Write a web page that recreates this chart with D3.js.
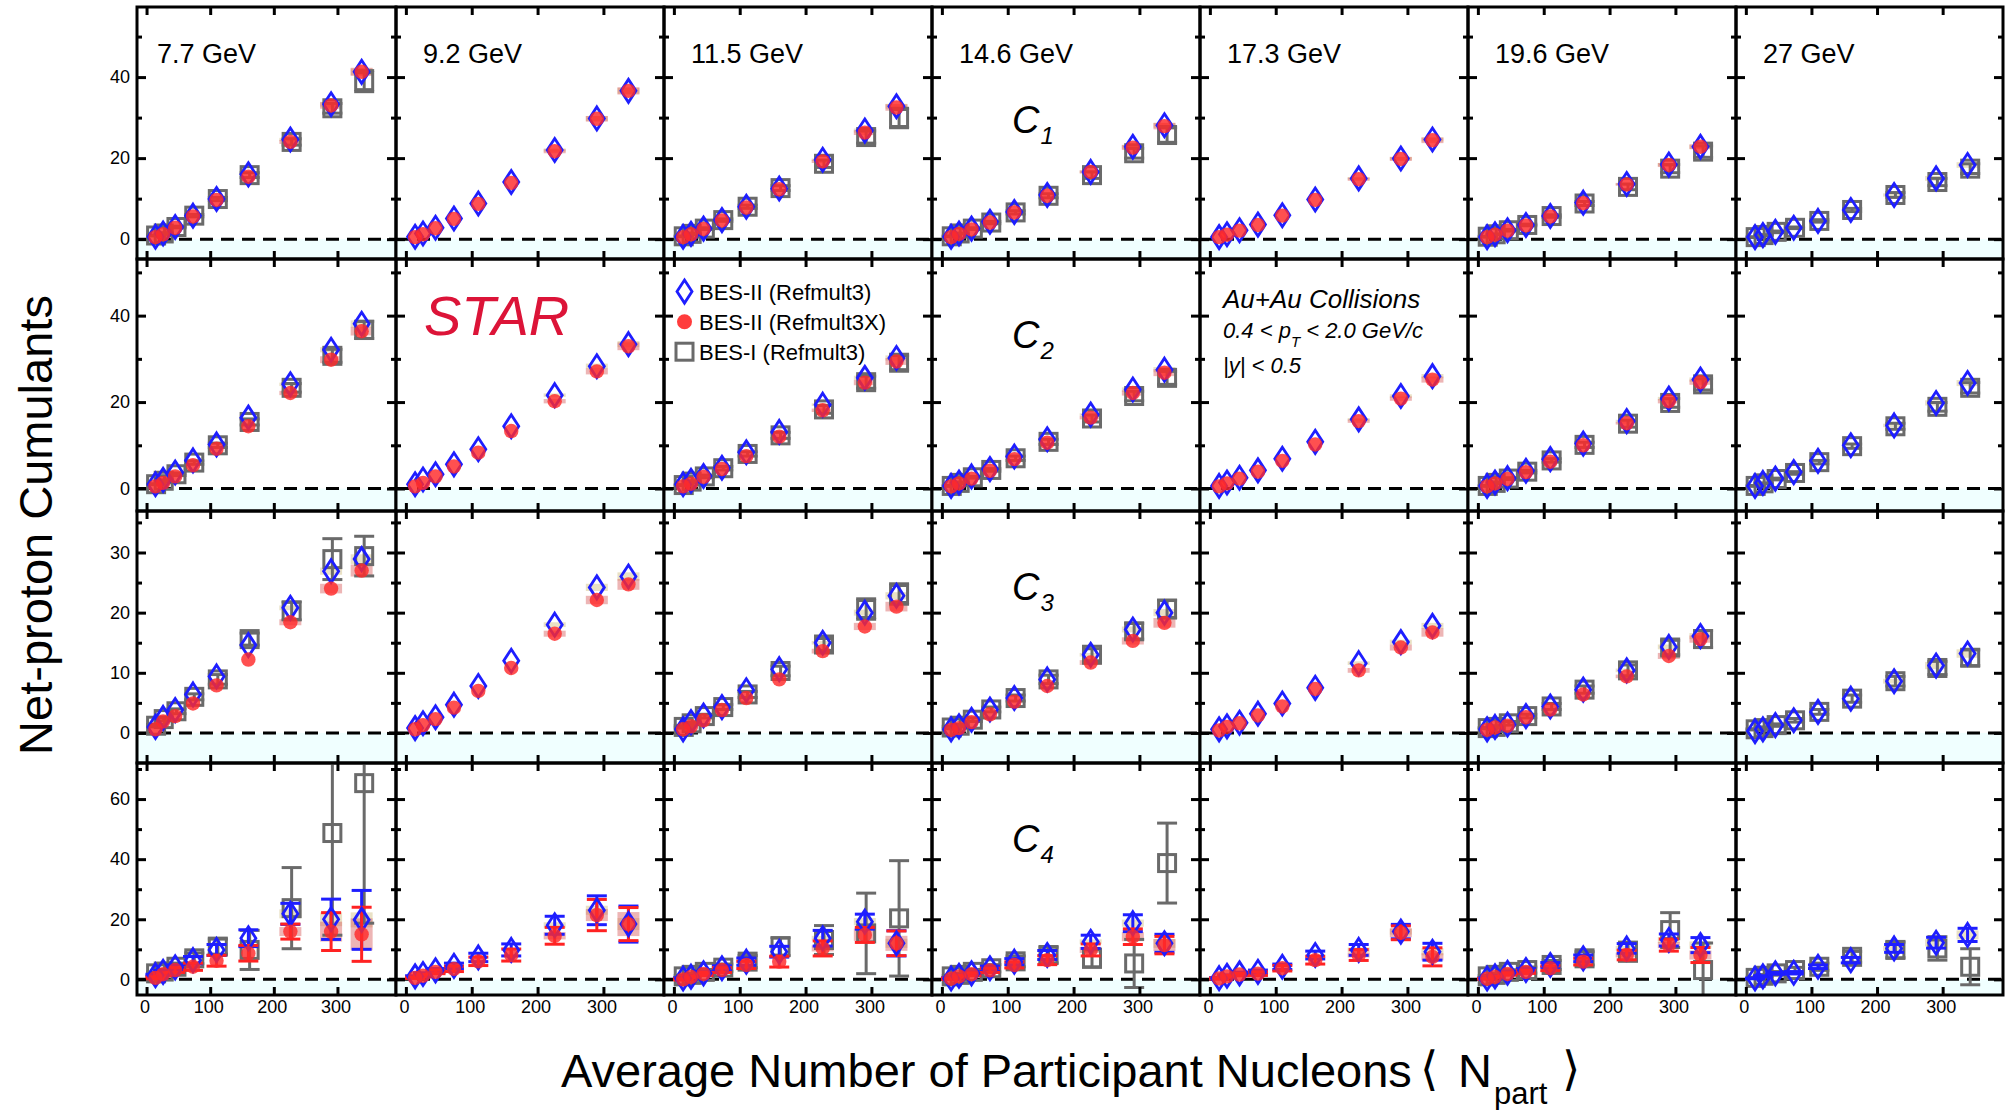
<!DOCTYPE html>
<html lang="en">
<head>
<meta charset="UTF-8">
<script src="https://d3js.org/d3.v7.min.js"></script>
<title>Net-proton cumulants vs Npart</title>
<style>
  body { margin: 0; background: #fff; }
  text { font-family: "Liberation Sans", Arial, Helvetica, sans-serif; fill: #000; }
</style>
</head>
<body>
<svg id="chart" width="2007" height="1110"></svg>
<script>
// ---- data ----
const energies = ["7.7 GeV", "9.2 GeV", "11.5 GeV", "14.6 GeV", "17.3 GeV", "19.6 GeV", "27 GeV"];
const npart = [14, 26, 45, 73, 110, 160, 226, 290, 338];
const npartBes1 = [15, 27, 47, 75, 112, 162, 228, 292, 342];
const cumulantNames = ["1", "2", "3", "4"];
const xTicks = [0, 100, 200, 300];
const yMajor = [[0, 20, 40], [0, 20, 40], [0, 10, 20, 30], [0, 20, 40, 60]];
const yMinor = [[10, 30, 50], [10, 30, 50], [5, 15, 25, 35], [10, 30, 50, 70]];

// C1
const c1Ref3 = [
  [0.6, 1.4, 3.0, 5.8, 9.9, 16.0, 24.6, 33.3, 41.3],
  [0.6, 1.4, 2.8, 5.1, 8.8, 14.1, 22.0, 29.8, 36.6],
  [0.6, 1.3, 2.6, 4.7, 8.0, 12.5, 19.6, 26.8, 32.8],
  [0.6, 1.4, 2.6, 4.3, 6.7, 10.9, 16.6, 22.8, 28.1],
  [0.5, 1.2, 2.2, 3.6, 5.9, 9.8, 15.0, 19.9, 24.6],
  [0.5, 1.2, 2.2, 3.5, 5.7, 9.0, 13.6, 18.4, 22.8],
  [0.5, 1.0, 1.8, 2.8, 4.5, 7.2, 10.9, 15.0, 18.3]
];
const c1Ref3X = [
  [0.5, 1.2, 2.8, 5.6, 9.7, 15.4, 24.0, 33.0, 41.3],
  [0.5, 1.2, 2.7, 5.0, 8.7, 13.9, 21.7, 29.7, 36.6],
  [0.5, 1.2, 2.5, 4.6, 7.8, 12.3, 19.2, 26.3, 32.5],
  [0.5, 1.3, 2.4, 4.1, 6.6, 10.7, 16.6, 22.6, 27.9],
  [0.5, 1.1, 2.1, 3.5, 5.8, 9.7, 14.8, 19.8, 24.4],
  [0.5, 1.1, 2.1, 3.4, 5.6, 8.9, 13.5, 18.3, 22.8],
  null
];
const c1Bes1 = [
  [0.9, 1.4, 3.0, 5.8, 9.9, 15.8, 24.0, 32.3, 39.0],
  null,
  [0.7, 1.3, 2.6, 4.7, 8.0, 12.6, 18.6, 25.2, 29.9],
  [0.7, 1.4, 2.6, 4.1, 6.6, 10.7, 15.8, 21.2, 25.7],
  null,
  [0.6, 1.2, 2.2, 3.5, 5.7, 8.8, 12.9, 17.4, 21.6],
  [0.5, 1.0, 1.8, 2.8, 4.5, 7.2, 10.9, 14.1, 17.4]
];
const c1Bes1Err = [
  [0.1, 0.2, 0.2, 0.3, 0.4, 0.6, 0.8, 1.2, 2.6],
  null,
  [0.1, 0.2, 0.2, 0.3, 0.4, 0.6, 0.9, 1.5, 2.4],
  [0.1, 0.1, 0.2, 0.3, 0.4, 0.5, 0.8, 1.2, 1.8],
  null,
  [0.1, 0.1, 0.2, 0.2, 0.3, 0.5, 0.7, 1.0, 1.4],
  [0.1, 0.1, 0.2, 0.2, 0.3, 0.4, 0.6, 0.9, 1.2]
];

// C2
const c2Ref3 = [
  [1.0, 2.0, 3.7, 6.5, 10.2, 16.4, 24.1, 32.1, 38.1],
  [1.0, 2.1, 3.3, 5.6, 9.1, 14.4, 21.6, 28.3, 33.4],
  [1.0, 1.8, 2.9, 4.8, 8.4, 13.1, 19.4, 25.6, 30.2],
  [0.6, 1.4, 2.8, 4.5, 7.4, 11.4, 17.1, 22.9, 27.5],
  [0.6, 1.4, 2.5, 4.2, 6.9, 10.8, 16.0, 21.4, 26.0],
  [0.6, 1.4, 2.4, 4.1, 6.8, 10.4, 15.6, 20.8, 25.2],
  [0.6, 1.3, 2.3, 3.8, 6.4, 10.0, 14.6, 19.8, 24.4]
];
const c2Ref3X = [
  [0.5, 1.3, 2.8, 5.4, 9.2, 14.4, 22.1, 29.8, 36.4],
  [0.5, 1.3, 2.8, 5.1, 8.3, 13.3, 20.2, 27.1, 32.9],
  [0.5, 1.1, 2.7, 4.5, 7.5, 12.0, 18.1, 24.5, 29.4],
  [0.5, 1.2, 2.3, 4.1, 6.8, 10.6, 16.4, 22.1, 26.8],
  [0.5, 1.2, 2.3, 3.9, 6.4, 10.2, 15.6, 20.8, 25.2],
  [0.5, 1.2, 2.2, 3.8, 6.2, 10.0, 15.1, 20.2, 24.6],
  null
];
const c2Bes1 = [
  [1.0, 1.8, 3.3, 6.0, 10.0, 15.4, 23.3, 30.7, 36.7],
  null,
  [0.8, 1.6, 2.8, 4.7, 8.0, 12.3, 18.3, 24.6, 29.1],
  [0.6, 1.3, 2.6, 4.3, 7.0, 10.8, 16.2, 21.4, 25.6],
  null,
  [0.6, 1.3, 2.3, 3.9, 6.5, 10.1, 15.0, 19.8, 24.1],
  [0.6, 1.2, 2.2, 3.6, 6.1, 9.8, 14.4, 18.9, 23.3]
];
const c2Bes1Err = [
  [0.1, 0.2, 0.3, 0.4, 0.5, 0.7, 1.0, 1.5, 2.0],
  null,
  [0.1, 0.2, 0.3, 0.4, 0.5, 0.7, 0.9, 1.4, 1.6],
  [0.1, 0.2, 0.2, 0.3, 0.5, 0.6, 0.8, 1.1, 1.5],
  null,
  [0.1, 0.2, 0.2, 0.3, 0.4, 0.6, 0.8, 1.0, 1.3],
  [0.1, 0.1, 0.2, 0.3, 0.4, 0.5, 0.7, 1.0, 1.2]
];

// C3
const c3Ref3 = [
  [1.0, 2.5, 3.8, 6.4, 9.4, 14.6, 20.8, 26.9, 28.9],
  [0.8, 1.6, 2.6, 4.7, 7.8, 12.0, 18.0, 24.2, 26.0],
  [0.6, 1.8, 2.9, 4.3, 7.1, 10.6, 15.0, 20.0, 22.8],
  [0.6, 1.1, 2.2, 3.9, 5.8, 8.9, 13.0, 17.2, 20.0],
  [0.6, 1.1, 1.7, 3.2, 4.9, 7.5, 11.6, 15.1, 17.8],
  [0.6, 1.0, 1.4, 2.8, 4.4, 7.2, 10.4, 14.3, 16.1],
  [0.3, 0.6, 1.3, 2.1, 3.5, 5.7, 8.6, 11.2, 13.2]
];
const c3Ref3X = [
  [0.6, 1.9, 2.8, 4.9, 7.9, 12.2, 18.4, 24.0, 27.0],
  [0.6, 1.3, 2.3, 4.2, 7.0, 10.8, 16.5, 22.1, 24.7],
  [0.6, 1.1, 2.1, 3.8, 5.8, 8.9, 13.6, 17.7, 21.0],
  [0.5, 0.8, 1.8, 3.1, 5.2, 7.8, 11.7, 15.3, 18.3],
  [0.4, 1.0, 1.6, 2.9, 4.4, 7.3, 10.4, 14.2, 16.7],
  [0.5, 0.9, 1.2, 2.6, 3.9, 6.4, 9.4, 12.8, 15.6],
  null
];
const c3Bes1 = [
  [1.2, 2.3, 3.6, 6.0, 8.9, 15.6, 20.3, 28.9, 29.4],
  null,
  [1.0, 1.6, 2.8, 4.3, 6.4, 10.3, 14.7, 20.6, 23.1],
  [0.9, 1.2, 2.2, 3.9, 5.8, 8.9, 13.0, 16.9, 20.6],
  null,
  [0.8, 1.0, 1.6, 2.8, 4.4, 7.2, 10.4, 14.2, 15.6],
  [0.6, 0.8, 1.3, 2.1, 3.5, 5.7, 8.6, 10.8, 12.5]
];
const c3Bes1Err = [
  [0.2, 0.3, 0.4, 0.5, 0.8, 1.0, 1.5, 3.4, 3.3],
  null,
  [0.2, 0.2, 0.3, 0.4, 0.5, 0.8, 1.0, 1.7, 1.7],
  [0.2, 0.2, 0.3, 0.4, 0.5, 0.7, 1.0, 1.3, 1.5],
  null,
  [0.1, 0.2, 0.3, 0.3, 0.5, 0.6, 0.9, 1.2, 1.4],
  [0.1, 0.2, 0.2, 0.3, 0.4, 0.6, 0.8, 1.1, 1.3]
];

// C4
const c4Ref3 = [
  [1.4, 2.5, 4.0, 6.4, 9.8, 13.7, 21.8, 20.0, 19.8],
  [1.0, 1.8, 3.0, 4.5, 7.3, 9.8, 18.0, 23.0, 18.4],
  [0.3, 0.9, 2.0, 3.7, 5.9, 9.2, 13.7, 19.2, 12.0],
  [0.3, 1.2, 2.0, 3.7, 5.9, 8.1, 12.5, 18.7, 12.0],
  [0.4, 1.2, 2.0, 2.5, 4.2, 8.1, 9.8, 15.9, 9.2],
  [0.3, 1.0, 2.2, 3.1, 4.8, 7.0, 10.3, 13.1, 11.4],
  [0.3, 1.0, 2.0, 2.2, 4.2, 6.4, 10.3, 12.2, 14.8]
];
const c4Ref3Err = [
  [0.3, 0.5, 0.8, 1.2, 1.8, 2.8, 3.5, 6.7, 9.8],
  [0.2, 0.4, 0.6, 0.9, 1.4, 2.0, 3.0, 4.8, 6.0],
  [0.2, 0.3, 0.5, 0.8, 1.2, 1.8, 2.6, 2.5, 4.2],
  [0.2, 0.3, 0.5, 0.7, 1.0, 1.5, 2.2, 2.8, 3.0],
  [0.2, 0.3, 0.4, 0.6, 0.9, 1.3, 1.8, 2.4, 2.8],
  [0.1, 0.2, 0.4, 0.5, 0.8, 1.1, 1.6, 2.0, 2.5],
  [0.1, 0.2, 0.3, 0.4, 0.6, 0.9, 1.3, 1.8, 2.2]
];
const c4Ref3X = [
  [0.5, 1.7, 3.1, 4.2, 6.2, 8.7, 15.9, 15.9, 15.0],
  [0.5, 1.2, 2.5, 3.5, 6.0, 8.1, 14.5, 21.4, 18.4],
  [0.0, 0.8, 1.8, 3.1, 4.8, 5.9, 10.3, 14.8, 12.0],
  [0.2, 1.0, 1.7, 3.0, 4.8, 6.4, 9.8, 14.2, 11.4],
  [0.3, 1.0, 1.6, 1.9, 3.7, 6.4, 8.1, 15.5, 7.5],
  [0.2, 0.8, 1.8, 2.5, 3.7, 5.9, 8.1, 11.4, 8.1],
  null
];
const c4Ref3XErr = [
  [0.3, 0.5, 0.8, 1.2, 1.8, 2.6, 2.5, 6.3, 9.0],
  [0.2, 0.4, 0.6, 0.9, 1.4, 2.0, 2.8, 5.2, 5.5],
  [0.2, 0.3, 0.5, 0.8, 1.2, 1.8, 2.5, 2.5, 4.1],
  [0.2, 0.3, 0.5, 0.7, 1.0, 1.5, 2.0, 2.6, 2.9],
  [0.2, 0.3, 0.4, 0.6, 0.9, 1.3, 1.8, 2.3, 3.0],
  [0.1, 0.2, 0.4, 0.5, 0.8, 1.1, 1.6, 2.0, 2.5],
  null
];
const c4Bes1 = [
  [2.0, 2.6, 4.2, 7.0, 10.9, 9.8, 23.7, 48.7, 65.3],
  null,
  [1.0, 1.5, 2.5, 3.9, 5.9, 10.9, 13.1, 15.3, 20.3],
  [1.0, 1.5, 2.5, 3.7, 6.0, 8.1, 7.0, 5.3, 38.7],
  null,
  [1.0, 1.5, 2.5, 3.1, 4.8, 7.0, 9.2, 16.4, 3.1],
  [0.5, 1.2, 2.0, 3.1, 4.2, 7.5, 9.8, 10.3, 4.2]
];
const c4Bes1Err = [
  [0.4, 0.7, 1.2, 1.8, 2.5, 6.5, 13.5, 34.0, 46.6],
  null,
  [0.3, 0.5, 0.8, 1.2, 2.0, 3.0, 4.8, 13.4, 19.2],
  [0.3, 0.5, 0.8, 1.2, 1.8, 2.6, 3.0, 8.0, 13.3],
  null,
  [0.3, 0.5, 0.7, 1.0, 1.5, 2.2, 3.2, 5.8, 9.0],
  [0.2, 0.4, 0.6, 0.9, 1.2, 1.8, 2.6, 3.9, 6.0]
];

// systematic boxes on the three most central points (Npart 226, 290, 338)
const c4Ref3XSys = [[1.5, 3.3, 5.3], [1.2, 2.0, 4.0], [1.0, 2.0, 2.5], [1.0, 1.5, 2.0], [0.8, 1.5, 1.2], [0.8, 1.0, 1.5], null];
const c4Ref3Sys = [[1.5, 2.3, 2.5], [1.0, 1.5, 2.0], [0.8, 1.2, 1.5], [0.8, 1.2, 1.5], [0.8, 1.0, 1.2], [0.8, 1.0, 1.2], [0.8, 1.2, 1.5]];
const c13Ref3XSys = [[0.5, 0.8, 1.0], [0.5, 0.7, 0.9], [0.4, 0.6, 0.8], [0.4, 0.6, 0.8], [0.4, 0.5, 0.7], [0.3, 0.5, 0.6], null];
const c13Ref3Sys = [[0.4, 0.6, 0.8], [0.4, 0.6, 0.7], [0.3, 0.5, 0.6], [0.3, 0.5, 0.6], [0.3, 0.4, 0.5], [0.3, 0.4, 0.5], [0.4, 0.6, 0.7]];

const legendItems = ["BES-II (Refmult3)", "BES-II (Refmult3X)", "BES-I (Refmult3)"];

// ---- layout ----
const colEdges = [137, 396, 664, 932, 1200, 1468, 1736, 2003];
const rowEdges = [7, 259, 511, 763, 995];
const xDomain = [-15, 392];
const yDomains = [[-4.9, 57.3], [-5.2, 53.1], [-5, 36.9], [-5.2, 72]];

const rows = [
  { ref3: c1Ref3, ref3x: c1Ref3X, bes1: c1Bes1, bes1Err: c1Bes1Err, ref3Err: null, ref3xErr: null, sysX: c13Ref3XSys, sys3: c13Ref3Sys },
  { ref3: c2Ref3, ref3x: c2Ref3X, bes1: c2Bes1, bes1Err: c2Bes1Err, ref3Err: null, ref3xErr: null, sysX: c13Ref3XSys, sys3: c13Ref3Sys },
  { ref3: c3Ref3, ref3x: c3Ref3X, bes1: c3Bes1, bes1Err: c3Bes1Err, ref3Err: null, ref3xErr: null, sysX: c13Ref3XSys, sys3: c13Ref3Sys },
  { ref3: c4Ref3, ref3x: c4Ref3X, bes1: c4Bes1, bes1Err: c4Bes1Err, ref3Err: c4Ref3Err, ref3xErr: c4Ref3XErr, sysX: c4Ref3XSys, sys3: c4Ref3Sys }
];

const BLUE = "#1e1eff", RED = "#ff2222", GRAY = "#6a6a6a";
const diamondPath = "M0,-11.5L7.5,0L0,11.5L-7.5,0Z";

const svg = d3.select("#chart");
const defs = svg.append("defs");

function errorBars(g, xs, vals, errs, x, y, color) {
  const pts = vals.map((v, i) => ({ x: xs[i], v: v, e: errs[i] }));
  const eg = g.append("g").attr("stroke", color).attr("stroke-width", 3);
  pts.forEach(p => {
    const cx = x(p.x);
    eg.append("line").attr("x1", cx).attr("x2", cx).attr("y1", y(p.v - p.e)).attr("y2", y(p.v + p.e));
    [p.v - p.e, p.v + p.e].forEach(t => {
      eg.append("line").attr("x1", cx - 10).attr("x2", cx + 10).attr("y1", y(t)).attr("y2", y(t));
    });
  });
}

function sysBoxes(g, vals, sys, x, y, fill) {
  sys.forEach((s, k) => {
    const i = 6 + k;
    g.append("rect")
      .attr("x", x(npart[i]) - 11).attr("width", 22)
      .attr("y", y(vals[i] + s)).attr("height", y(vals[i] - s) - y(vals[i] + s))
      .attr("fill", fill);
  });
}

energies.forEach((energy, c) => {
  const x0 = colEdges[c], x1 = colEdges[c + 1];
  const x = d3.scaleLinear().domain(xDomain).range([x0, x1]);

  rows.forEach((row, r) => {
    const yTop = rowEdges[r], yBot = rowEdges[r + 1];
    const y = d3.scaleLinear().domain(yDomains[r]).range([yBot, yTop]);
    const clipId = "clip-" + r + "-" + c;
    defs.append("clipPath").attr("id", clipId).append("rect")
      .attr("x", x0).attr("y", yTop).attr("width", x1 - x0).attr("height", yBot - yTop);

    const g = svg.append("g").attr("clip-path", "url(#" + clipId + ")");

    // light band below zero
    g.append("rect").attr("x", x0).attr("width", x1 - x0)
      .attr("y", y(0)).attr("height", yBot - y(0)).attr("fill", "#f0ffff");

    g.append("line").attr("x1", x0).attr("x2", x1).attr("y1", y(0)).attr("y2", y(0))
      .attr("stroke", "#000").attr("stroke-width", 3).attr("stroke-dasharray", "13,8");

    const ref3 = row.ref3[c], ref3x = row.ref3x[c], bes1 = row.bes1[c];

    // systematic boxes
    if (row.sys3[c]) sysBoxes(g, ref3, row.sys3[c], x, y, "rgba(215,200,150,0.55)");
    if (ref3x && row.sysX[c]) sysBoxes(g, ref3x, row.sysX[c], x, y, "rgba(215,90,90,0.45)");

    // BES-I squares
    if (bes1) {
      if (row.bes1Err && row.bes1Err[c]) errorBars(g, npartBes1, bes1, row.bes1Err[c], x, y, GRAY);
      g.selectAll(null).data(bes1).join("rect")
        .attr("x", (d, i) => x(npartBes1[i]) - 8.5).attr("y", d => y(d) - 8.5)
        .attr("width", 17).attr("height", 17)
        .attr("fill", "none").attr("stroke", GRAY).attr("stroke-width", 3);
    }
    if (row.ref3Err && row.ref3Err[c]) errorBars(g, npart, ref3, row.ref3Err[c], x, y, BLUE);
    if (ref3x && row.ref3xErr && row.ref3xErr[c]) errorBars(g, npart, ref3x, row.ref3xErr[c], x, y, RED);

    // BES-II Refmult3 diamonds
    g.selectAll(null).data(ref3).join("path")
      .attr("d", diamondPath)
      .attr("transform", (d, i) => "translate(" + x(npart[i]) + "," + y(d) + ")")
      .attr("fill", "none").attr("stroke", BLUE).attr("stroke-width", 2.8);

    // BES-II Refmult3X circles
    if (ref3x) {
      g.selectAll(null).data(ref3x).join("circle")
        .attr("cx", (d, i) => x(npart[i])).attr("cy", d => y(d)).attr("r", 7.2)
        .attr("fill", "#ff2a2a").attr("fill-opacity", 0.82);
    }

    // ticks on all four sides, pointing inwards
    const tg = svg.append("g").attr("class", "ticks");
    tg.append("g").attr("transform", "translate(" + x0 + ",0)")
      .call(d3.axisLeft(y).tickValues(yMajor[r]).tickSize(-9).tickFormat(""));
    tg.append("g").attr("transform", "translate(" + x0 + ",0)")
      .call(d3.axisLeft(y).tickValues(yMinor[r]).tickSize(-5).tickFormat(""));
    tg.append("g").attr("transform", "translate(" + x1 + ",0)")
      .call(d3.axisRight(y).tickValues(yMajor[r]).tickSize(-9).tickFormat(""));
    tg.append("g").attr("transform", "translate(" + x1 + ",0)")
      .call(d3.axisRight(y).tickValues(yMinor[r]).tickSize(-5).tickFormat(""));
    tg.append("g").attr("transform", "translate(0," + yTop + ")")
      .call(d3.axisTop(x).tickValues(xTicks).tickSize(-8).tickFormat(""));
    tg.append("g").attr("transform", "translate(0," + yBot + ")")
      .call(d3.axisBottom(x).tickValues(xTicks).tickSize(-8).tickFormat(""));
    tg.selectAll(".domain").remove();
    tg.selectAll(".tick line").attr("stroke", "#000").attr("stroke-width", 3);

    svg.append("rect").attr("x", x0).attr("y", yTop).attr("width", x1 - x0).attr("height", yBot - yTop)
      .attr("fill", "none").attr("stroke", "#000").attr("stroke-width", 3);

    // tick labels on the outer axes only
    if (c === 0) {
      const la = svg.append("g").attr("transform", "translate(" + x0 + ",0)")
        .call(d3.axisLeft(y).tickValues(yMajor[r]).tickSize(0).tickPadding(7));
      la.select(".domain").remove();
      la.selectAll("text").style("font-size", "18px").style("font-family", "Liberation Sans, Arial, sans-serif");
    }
    if (r === rows.length - 1) {
      const lb = svg.append("g").attr("transform", "translate(-2," + yBot + ")")
        .call(d3.axisBottom(x).tickValues(xTicks).tickSize(0).tickPadding(5));
      lb.select(".domain").remove();
      lb.selectAll("text").style("font-size", "18px").style("font-family", "Liberation Sans, Arial, sans-serif");
    }
  });

  // energy label
  svg.append("text").attr("x", x0 + (c === 0 ? 20 : 27)).attr("y", 63)
    .style("font-size", "27px").text(energy);
});

// cumulant order labels in the 14.6 GeV column
const cLabelBaselines = [133, 348, 600, 852];
cumulantNames.forEach((n, r) => {
  const t = svg.append("text").attr("x", 1012).attr("y", cLabelBaselines[r])
    .style("font-size", "38px").style("font-style", "italic");
  t.append("tspan").text("C");
  t.append("tspan").attr("dx", 1).attr("dy", 11).style("font-size", "24px").text(n);
});

// STAR
svg.append("text").attr("x", 424).attr("y", 335)
  .style("font-size", "56px").style("font-style", "italic").style("fill", "#dc1438")
  .text("STAR");

// legend
const legendY = [291.6, 321.7, 351.7];
const lg = svg.append("g");
lg.append("path").attr("d", diamondPath).attr("transform", "translate(684.5," + legendY[0] + ")")
  .attr("fill", "none").attr("stroke", BLUE).attr("stroke-width", 2.8);
lg.append("circle").attr("cx", 684.5).attr("cy", legendY[1]).attr("r", 7.5).attr("fill", "#ff3c3c");
lg.append("rect").attr("x", 676).attr("y", legendY[2] - 8.5).attr("width", 17).attr("height", 17)
  .attr("fill", "none").attr("stroke", GRAY).attr("stroke-width", 3);
legendItems.forEach((t, i) => {
  lg.append("text").attr("x", 699).attr("y", legendY[i]).attr("dy", "0.36em")
    .style("font-size", "22px").text(t);
});

// collision system text
const info = svg.append("g").style("font-style", "italic");
info.append("text").attr("x", 1223).attr("y", 308).style("font-size", "26px").text("Au+Au Collisions");
const pt = info.append("text").attr("x", 1223).attr("y", 338).style("font-size", "22px");
pt.append("tspan").text("0.4 < p");
pt.append("tspan").attr("dy", 9).style("font-size", "15px").text("T");
pt.append("tspan").attr("dy", -9).text(" < 2.0 GeV/c");
info.append("text").attr("x", 1223).attr("y", 373).style("font-size", "22px").text("|y| < 0.5");

// axis titles
svg.append("text").attr("transform", "translate(52,525) rotate(-90)")
  .attr("text-anchor", "middle").style("font-size", "47px").text("Net-proton Cumulants");

const xTitle = svg.append("g").style("font-size", "47px");
xTitle.append("text").attr("x", 561).attr("y", 1087).text("Average Number of Participant Nucleons");
xTitle.append("text").attr("x", 1420).attr("y", 1085).style("font-family", "DejaVu Sans").text("\u27E8");
xTitle.append("text").attr("x", 1458).attr("y", 1087).text("N");
xTitle.append("text").attr("x", 1494).attr("y", 1104).style("font-size", "31px").text("part");
xTitle.append("text").attr("x", 1562).attr("y", 1085).style("font-family", "DejaVu Sans").text("\u27E9");
</script>
</body>
</html>
